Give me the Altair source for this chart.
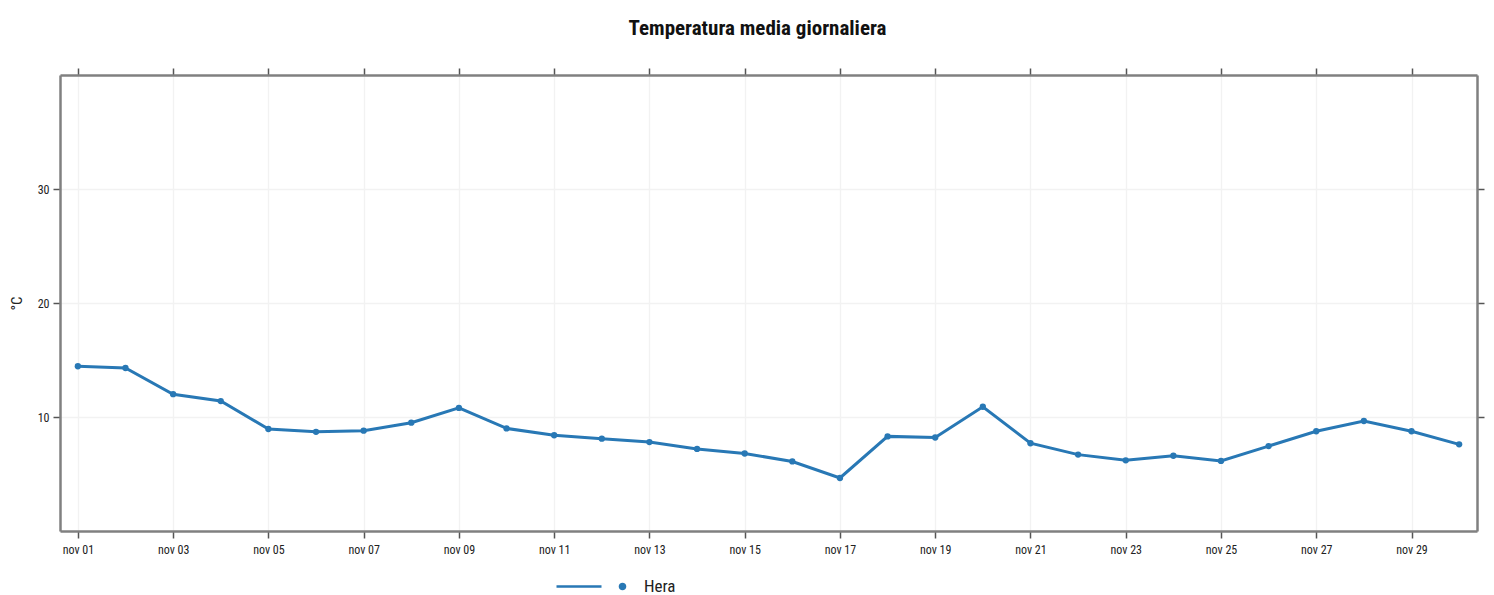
import altair as alt
import pandas as pd

days = [f"2023-11-{d:02d}" for d in range(1, 31)]
temps = [14.45, 14.3, 12.0, 11.4, 8.95, 8.7, 8.8, 9.5, 10.8, 9.0,
         8.4, 8.1, 7.8, 7.2, 6.8, 6.1, 4.65, 8.3, 8.2, 10.9,
         7.7, 6.7, 6.2, 6.6, 6.15, 7.45, 8.75, 9.65, 8.75, 7.6]
series = ["Hera"] * len(days)
tick_days = list(range(1, 30, 2))
y_ticks = [10, 20, 30]

df = pd.DataFrame({"date": days, "temp": temps, "serie": series})

FONT = "Roboto Condensed, Roboto, sans-serif"
COL = "#2878b5"
AX = dict(domainColor="#808080", domainWidth=2.5, tickColor="#555555",
          tickWidth=1.5, tickSize=7, gridColor="#f2f2f2", gridWidth=1.3,
          labelColor="#222222", labelFont=FONT)

xdomain = [alt.DateTime(year=2023, month=10, date=31, hours=15, utc=True),
           alt.DateTime(year=2023, month=11, date=30, hours=9, utc=True)]
xvals = [alt.DateTime(year=2023, month=11, date=d, utc=True) for d in tick_days]
xscale = alt.Scale(type="utc", domain=xdomain)
yscale = alt.Scale(domain=[0, 40], nice=False, zero=False)

legend_path = ("M-6.6,0L-2.1,0"
               "M-0.25,0A0.25,0.25 0 1,0 0.25,0A0.25,0.25 0 1,0 -0.25,0")

base = alt.Chart(df)

main = base.mark_line(strokeWidth=3, color=COL).encode(
    x=alt.X("date:T", scale=xscale, title=None,
            axis=alt.Axis(values=xvals, orient="bottom", grid=True,
                          labelExpr="'nov ' + utcFormat(datum.value, '%d')",
                          labelPadding=6, labelFontSize=12, **AX)),
    y=alt.Y("temp:Q", scale=yscale, title="°C",
            axis=alt.Axis(values=y_ticks, orient="left", grid=True,
                          labelPadding=4, labelFontSize=12,
                          titleFontSize=15, titleFontWeight="normal",
                          titleFont=FONT, titleColor="#222222",
                          titlePadding=13, **AX)),
    color=alt.Color("serie:N",
                    scale=alt.Scale(domain=["Hera"], range=[COL]),
                    legend=alt.Legend(title=None, orient="none",
                                      legendX=551, legendY=500,
                                      symbolType=legend_path, symbolSize=400,
                                      symbolStrokeWidth=2.6,
                                      symbolFillColor=COL, symbolStrokeColor=COL,
                                      labelFontSize=17, labelOffset=10,
                                      labelColor="#222222",
                                      padding=0, labelFont=FONT)),
)

pts = base.mark_circle(size=40, opacity=1, color=COL).encode(
    x=alt.X("date:T", scale=xscale, axis=None),
    y=alt.Y("temp:Q", scale=yscale, axis=None),
)

frame = base.mark_point(opacity=0).encode(
    x=alt.X("date:T", scale=xscale, title=None,
            axis=alt.Axis(values=xvals, orient="top", labels=False, grid=False,
                          **AX)),
    y=alt.Y("temp:Q", scale=yscale, title=None,
            axis=alt.Axis(values=y_ticks, orient="right", labels=False,
                          grid=False, **AX)),
)

chart = alt.layer(main, pts, frame).resolve_axis(
    x="independent", y="independent"
).properties(
    width=1417, height=456,
    autosize=alt.AutoSizeParams(type="none"),
    padding={"left": 52, "top": 67, "right": 9, "bottom": 66},
    title=alt.TitleParams("Temperatura media giornaliera", fontSize=21,
                          fontWeight="bold", font=FONT, offset=28, dx=-11,
                          color="#111111"),
).configure_view(stroke=None).configure(background="white")

chart.save("out.html", embed_options={"renderer": "svg", "actions": False})
